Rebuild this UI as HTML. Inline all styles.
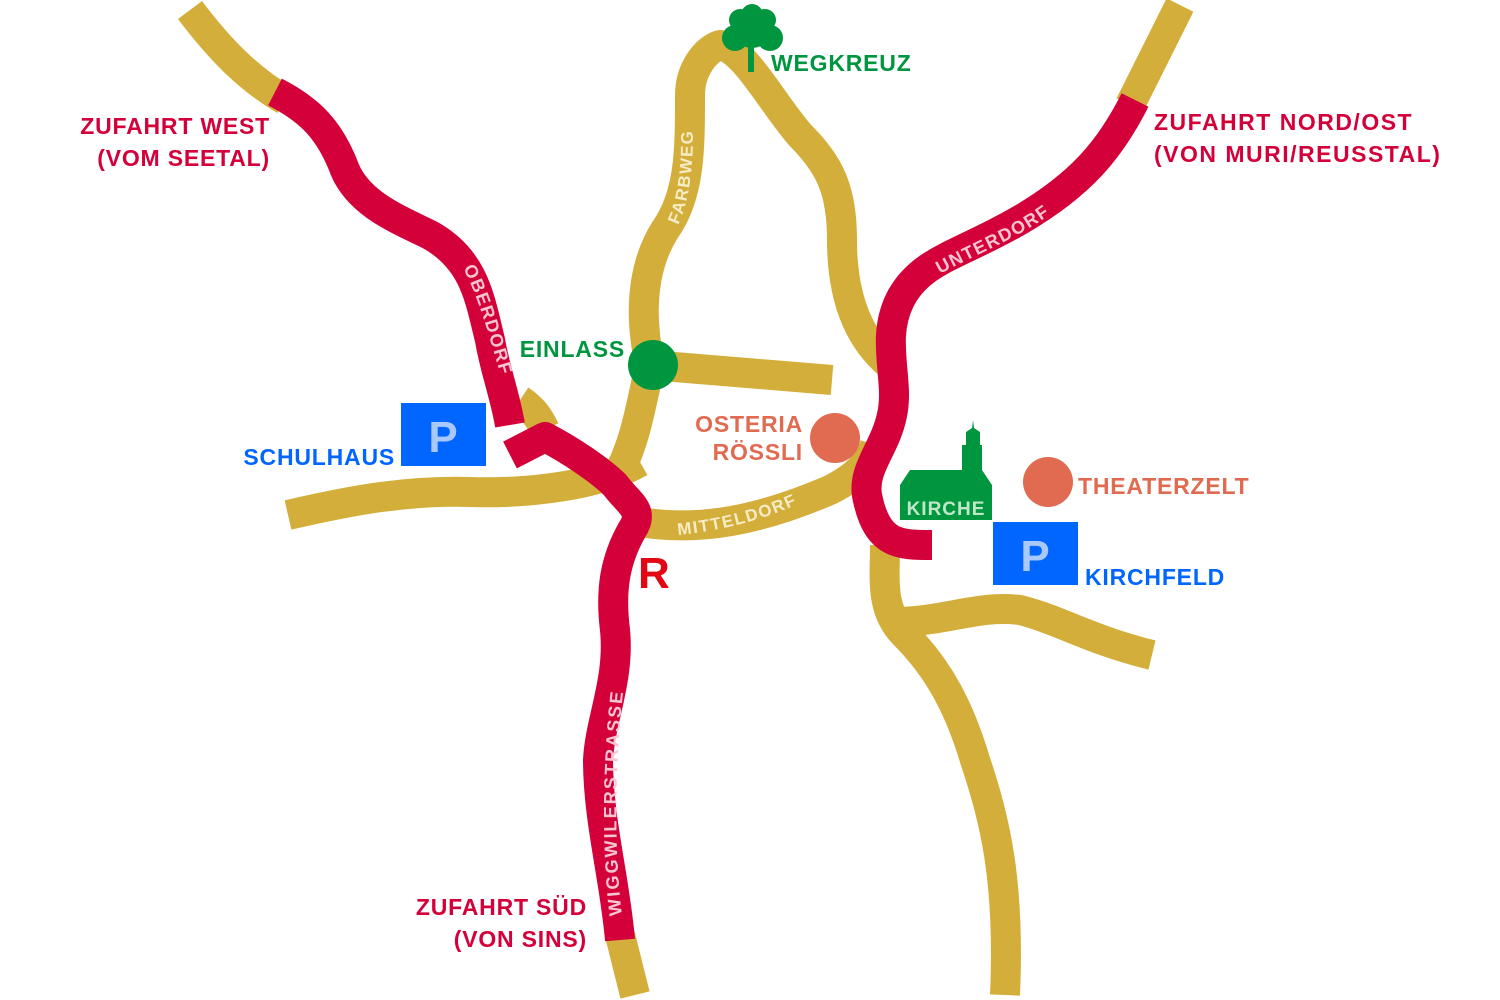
<!DOCTYPE html>
<html><head><meta charset="utf-8"><style>
html,body{margin:0;padding:0;background:#fff;}
svg{display:block;}
text{font-family:"Liberation Sans",sans-serif;font-weight:bold;}
</style></head><body>
<svg width="1500" height="1000" viewBox="0 0 1500 1000" xmlns="http://www.w3.org/2000/svg">
<defs>
<path id="pOber" d="M463 268 C480 300 490 340 505 390"/>
<path id="pFarb" d="M678 225 C690 200 695 160 692 110"/>
<path id="pUnter" d="M940 274 C980 252 1030 234 1068 200"/>
<path id="pMittel" d="M678 535 C730 530 780 515 815 495"/>
<path id="pWigg" d="M622 915 C615 860 612 760 628 655"/>
</defs>
<g fill="none" stroke="#d4ae3a" stroke-width="30" stroke-linejoin="round">
<path d="M190 10 C220 50 250 80 285 100"/>
<path d="M650 365 C640 320 640 270 665 230 C690 195 690 150 690 95 C690 70 705 50 720 45 C745 50 770 100 800 135 C830 165 842 190 842 240 C842 300 860 340 890 365"/>
<path d="M650 365 L832 380"/>
<path d="M650 365 C640 410 635 445 615 480"/>
<path d="M288 515 C340 503 400 490 470 492 C530 494 600 485 640 462"/>
<path d="M520 400 C535 410 540 420 545 430"/>
<path d="M640 522 C700 532 760 520 830 490 C860 475 870 460 875 445"/>
<path d="M885 545 C885 580 880 610 905 635 C940 670 960 710 975 760 C995 820 1010 880 1005 995"/>
<path d="M900 622 C950 620 980 605 1020 610 C1060 620 1090 640 1152 655"/>
<path d="M620 935 L635 995"/>
<path d="M1180 5 L1130 105"/>
</g>
<g fill="none" stroke="#d4003a" stroke-width="30" stroke-linejoin="round">
<path d="M275 92 C310 110 330 130 345 170 C360 205 400 220 430 235 C475 260 480 300 490 340 C495 370 505 395 510 425" stroke-linecap="butt"/>
<path d="M510 455 L545 437 C570 450 600 470 615 485 C630 505 645 510 632 530 C615 560 610 590 615 630 C620 680 600 720 598 760 C598 820 615 880 620 940"/>
<path d="M1135 100 C1110 150 1080 185 1020 220 C960 255 920 260 900 300 C880 340 900 380 892 415 C885 450 860 470 868 500 C878 545 900 545 932 545"/>
</g>
<g font-size="18" fill="#f5c6d2" letter-spacing="1.5">
<text><textPath href="#pOber">OBERDORF</textPath></text>
<text><textPath href="#pUnter">UNTERDORF</textPath></text>
<text letter-spacing="2"><textPath href="#pWigg">WIGGWILERSTRASSE</textPath></text>
</g>
<g font-size="17" fill="#f6ecc6" letter-spacing="1.5">
<text><textPath href="#pFarb">FARBWEG</textPath></text>
<text><textPath href="#pMittel">MITTELDORF</textPath></text>
</g>
<circle cx="653" cy="365" r="25" fill="#00963f"/>
<circle cx="835" cy="438" r="25" fill="#e06b50"/>
<circle cx="1048" cy="482" r="25" fill="#e06b50"/>
<rect x="401" y="403" width="85" height="63" fill="#0066ff"/>
<text x="443" y="452" font-size="44" fill="#a8c8ff" text-anchor="middle">P</text>
<rect x="993" y="522" width="85" height="63" fill="#0066ff"/>
<text x="1035" y="571" font-size="44" fill="#a8c8ff" text-anchor="middle">P</text>
<g fill="#00963f">
<path d="M900 485 L910 470 L962 470 L962 445 L966 445 L966 432 L972 428 L973 420 L974 428 L980 432 L980 445 L982 445 L982 470 L992 485 L992 520 L900 520 Z"/>
<circle cx="752" cy="28" r="20"/><circle cx="735" cy="38" r="13"/><circle cx="770" cy="38" r="13"/><circle cx="752" cy="15" r="11"/><circle cx="740" cy="20" r="11"/><circle cx="765" cy="20" r="11"/>
<rect x="748" y="45" width="6" height="27"/>
</g>
<text x="946" y="515" font-size="19" fill="#bfe8c8" text-anchor="middle" letter-spacing="1">KIRCHE</text>
<g font-size="23" letter-spacing="0.8">
<text x="771" y="71" fill="#00963f">WEGKREUZ</text>
<text x="625" y="357" fill="#00963f" text-anchor="end">EINLASS</text>
<text x="803" y="432" fill="#e06b50" text-anchor="end">OSTERIA</text>
<text x="803" y="460" fill="#e06b50" text-anchor="end">RÖSSLI</text>
<text x="1078" y="494" fill="#e06b50">THEATERZELT</text>
<text x="395" y="465" fill="#0066ff" text-anchor="end">SCHULHAUS</text>
<text x="1085" y="585" fill="#0066ff">KIRCHFELD</text>
<text x="270" y="134" fill="#d4003a" text-anchor="end">ZUFAHRT WEST</text>
<text x="270" y="166" fill="#d4003a" text-anchor="end">(VOM SEETAL)</text>
<text x="1154" y="130" fill="#d4003a" letter-spacing="1.5">ZUFAHRT NORD/OST</text>
<text x="1154" y="162" fill="#d4003a" letter-spacing="1.5">(VON MURI/REUSSTAL)</text>
<text x="587" y="915" fill="#d4003a" text-anchor="end">ZUFAHRT SÜD</text>
<text x="587" y="947" fill="#d4003a" text-anchor="end">(VON SINS)</text>
</g>
<text x="638" y="588" font-size="44" fill="#e30613">R</text>
</svg>
</body></html>
